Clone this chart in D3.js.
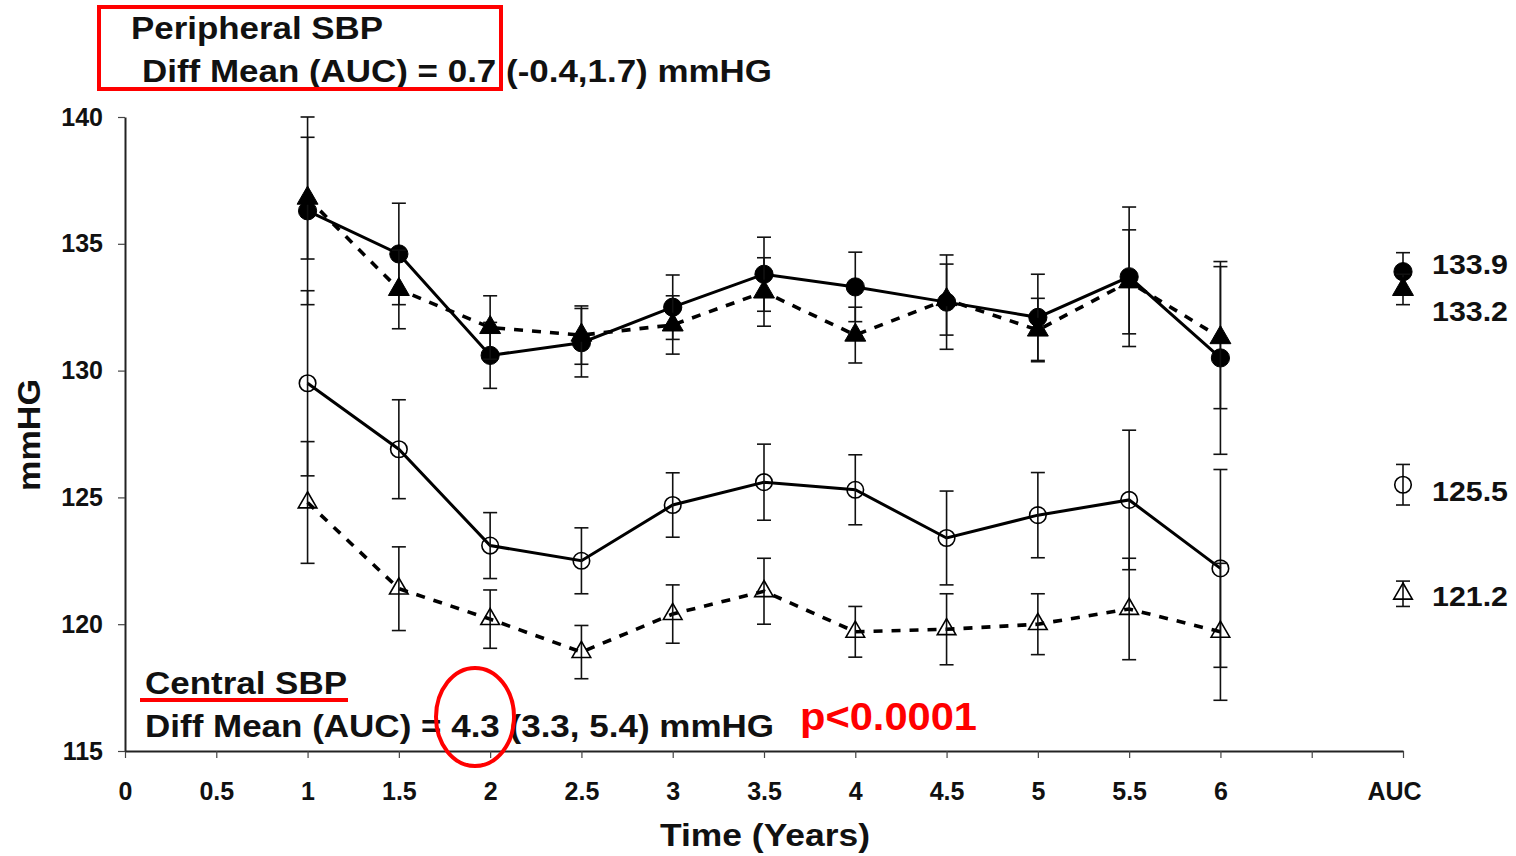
<!DOCTYPE html>
<html>
<head>
<meta charset="utf-8">
<script src="https://cdn.jsdelivr.net/npm/d3@7"></script>
<style>
  body { margin: 0; background: #fff; }
  text { font-family: "Liberation Sans", Arial, sans-serif; font-weight: bold; fill: #111; }
</style>
</head>
<body>
<svg width="1516" height="856"></svg>
<script>
// years of follow-up
var years = [1, 1.5, 2, 2.5, 3, 3.5, 4, 4.5, 5, 5.5, 6];

// peripheral SBP (filled markers)
var periphA = [136.3, 134.6, 130.6, 131.1, 132.5, 133.8, 133.3, 132.7, 132.1, 133.7, 130.5];
var periphAErr = [3.7, 2.0, 1.3, 1.35, 1.27, 1.46, 1.37, 1.86, 1.7, 2.75, 3.8];
var periphB = [136.8, 133.2, 131.7, 131.4, 131.8, 133.1, 131.4, 132.8, 131.6, 133.5, 131.3];
var periphBErr = [2.4, 1.55, 1.25, 1.15, 1.15, 1.35, 1.1, 1.4, 1.25, 2.05, 2.8];

// central SBP (open markers)
var centralA = [129.5, 126.9, 123.1, 122.5, 124.7, 125.6, 125.3, 123.4, 124.3, 124.9, 122.2];
var centralAErr = [3.65, 1.95, 1.3, 1.3, 1.27, 1.5, 1.38, 1.85, 1.68, 2.75, 3.9];
var centralB = [124.8, 121.4, 120.2, 118.9, 120.4, 121.3, 119.7, 119.8, 120.0, 120.6, 119.7];
var centralBErr = [2.4, 1.65, 1.15, 1.05, 1.15, 1.3, 1.0, 1.4, 1.2, 2.0, 2.7];

// area under curve summary, same order as above
var aucVals = [133.9, 133.2, 125.5, 121.2];
var aucErr = [0.75, 0.6, 0.8, 0.5];

var xTicks = [0, 0.5, 1, 1.5, 2, 2.5, 3, 3.5, 4, 4.5, 5, 5.5, 6, 6.5, 7];
var xTickLabels = ["0", "0.5", "1", "1.5", "2", "2.5", "3", "3.5", "4", "4.5", "5", "5.5", "6", "", "AUC"];
var yTicks = [115, 120, 125, 130, 135, 140];

var svg = d3.select("svg");

var x = d3.scaleLinear().domain([0, 7]).range([125, 1403]);
var y = d3.scaleLinear().domain([115, 140]).range([751, 117]);

// axes
var xAxis = svg.append("g")
  .attr("transform", "translate(0," + y(115) + ")")
  .call(d3.axisBottom(x).tickValues(xTicks)
    .tickFormat(function(d, i) { return xTickLabels[i]; })
    .tickSize(7).tickPadding(24).tickSizeOuter(0));
var yAxis = svg.append("g")
  .attr("transform", "translate(" + x(0) + ",0)")
  .call(d3.axisLeft(y).tickValues(yTicks).tickSize(7).tickPadding(15).tickSizeOuter(0));

[xAxis, yAxis].forEach(function(a) {
  a.select(".domain").attr("stroke", "#222").attr("stroke-width", 2);
  a.selectAll(".tick line").attr("stroke", "#444").attr("stroke-width", 1.2);
  a.selectAll(".tick text").style("font-size", "25px").attr("fill", "#111");
});
// the AUC label sits a little left of its tick
xAxis.selectAll(".tick text").filter(function(d) { return d === 7; }).attr("dx", -9);

// series definitions built from the arrays
var series = [
  { vals: periphA, err: periphAErr, shape: "circle", filled: true, dashed: false },
  { vals: periphB, err: periphBErr, shape: "triangle", filled: true, dashed: true },
  { vals: centralA, err: centralAErr, shape: "circle", filled: false, dashed: false },
  { vals: centralB, err: centralBErr, shape: "triangle", filled: false, dashed: true }
];

var line = d3.line()
  .x(function(d) { return x(d.t); })
  .y(function(d) { return y(d.v); });

function symbolFor(s) {
  if (s.shape === "circle") return d3.symbol().type(d3.symbolCircle).size(s.filled ? 260 : 215)();
  return d3.symbol().type(d3.symbolTriangle).size(s.filled ? 190 : 150)();
}

function errBars(g, pts) {
  var eb = g.selectAll(".eb").data(pts).enter().append("g").attr("class", "eb")
    .attr("stroke", "#111").attr("stroke-width", 1.6);
  eb.append("line")
    .attr("x1", function(d) { return x(d.t); }).attr("x2", function(d) { return x(d.t); })
    .attr("y1", function(d) { return y(d.v + d.e); }).attr("y2", function(d) { return y(d.v - d.e); });
  eb.append("line")
    .attr("x1", function(d) { return x(d.t) - 7; }).attr("x2", function(d) { return x(d.t) + 7; })
    .attr("y1", function(d) { return y(d.v + d.e); }).attr("y2", function(d) { return y(d.v + d.e); });
  eb.append("line")
    .attr("x1", function(d) { return x(d.t) - 7; }).attr("x2", function(d) { return x(d.t) + 7; })
    .attr("y1", function(d) { return y(d.v - d.e); }).attr("y2", function(d) { return y(d.v - d.e); });
}

series.forEach(function(s, k) {
  var pts = years.map(function(t, i) { return { t: t, v: s.vals[i], e: s.err[i] }; });
  pts.push({ t: 7, v: aucVals[k], e: aucErr[k], auc: true });
  var g = svg.append("g");
  g.append("path")
    .datum(pts.filter(function(d) { return !d.auc; }))
    .attr("d", line)
    .attr("fill", "none")
    .attr("stroke", "#000")
    .attr("stroke-width", s.dashed ? 3.6 : 3)
    .attr("stroke-dasharray", s.dashed ? "9,9" : null);
  errBars(g, pts);
  g.selectAll(".mk").data(pts).enter().append("path")
    .attr("class", "mk")
    .attr("d", symbolFor(s))
    .attr("transform", function(d) { return "translate(" + x(d.t) + "," + y(d.v) + ")"; })
    .attr("fill", s.filled ? "#000" : "none")
    .attr("stroke", "#000")
    .attr("stroke-width", s.filled ? 1 : 1.6);
});

// AUC value labels (nudged apart where the two peripheral values overlap)
var aucNudge = [0.3, -0.85, -0.25, -0.1];
svg.selectAll(".auclab").data(aucVals).enter().append("text")
  .attr("class", "auclab")
  .attr("x", 1432)
  .attr("y", function(d, i) { return y(d + aucNudge[i]); })
  .attr("dy", "0.36em")
  .attr("textLength", 76).attr("lengthAdjust", "spacingAndGlyphs")
  .style("font-size", "27px")
  .text(function(d) { return d.toFixed(1); });

// axis titles
svg.append("text")
  .attr("transform", "translate(40,435) rotate(-90)")
  .attr("text-anchor", "middle")
  .attr("textLength", 112).attr("lengthAdjust", "spacingAndGlyphs")
  .style("font-size", "31px")
  .text("mmHG");
svg.append("text")
  .attr("x", 765).attr("y", 846)
  .attr("text-anchor", "middle")
  .attr("textLength", 210).attr("lengthAdjust", "spacingAndGlyphs")
  .style("font-size", "32px")
  .text("Time (Years)");

// annotations
svg.append("text").attr("x", 131).attr("y", 39)
  .attr("textLength", 252).attr("lengthAdjust", "spacingAndGlyphs")
  .style("font-size", "31px").text("Peripheral SBP");
svg.append("text").attr("x", 142).attr("y", 82)
  .attr("textLength", 630).attr("lengthAdjust", "spacingAndGlyphs")
  .style("font-size", "31px").text("Diff Mean (AUC) = 0.7 (-0.4,1.7) mmHG");
svg.append("rect")
  .attr("x", 99).attr("y", 7).attr("width", 402).attr("height", 82)
  .attr("fill", "none").attr("stroke", "#f00").attr("stroke-width", 4);

svg.append("text").attr("x", 145).attr("y", 694)
  .attr("textLength", 202).attr("lengthAdjust", "spacingAndGlyphs")
  .style("font-size", "31px").text("Central SBP");
svg.append("line")
  .attr("x1", 140).attr("x2", 348).attr("y1", 700).attr("y2", 700)
  .attr("stroke", "#f00").attr("stroke-width", 4);
svg.append("text").attr("x", 145).attr("y", 737)
  .attr("textLength", 629).attr("lengthAdjust", "spacingAndGlyphs")
  .style("font-size", "31px").text("Diff Mean (AUC) = 4.3 (3.3, 5.4) mmHG");
svg.append("ellipse")
  .attr("cx", 475).attr("cy", 717).attr("rx", 39).attr("ry", 49)
  .attr("fill", "none").attr("stroke", "#f00").attr("stroke-width", 4);
svg.append("text").attr("x", 800).attr("y", 730)
  .attr("textLength", 177).attr("lengthAdjust", "spacingAndGlyphs")
  .style("font-size", "39px").style("fill", "#f00").text("p<0.0001");
</script>
</body>
</html>
